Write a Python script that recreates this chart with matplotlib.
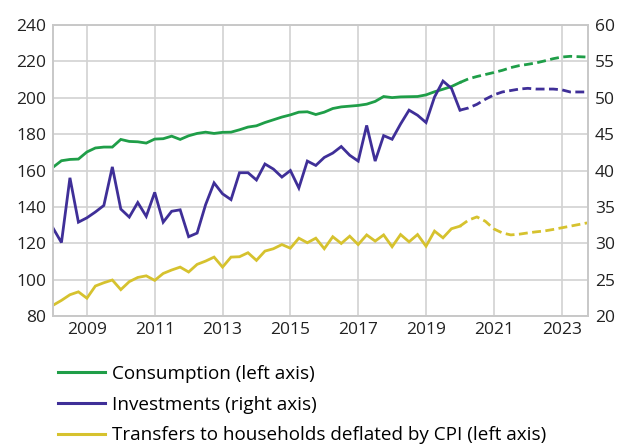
import numpy as np
import matplotlib
matplotlib.use("Agg")
import matplotlib.pyplot as plt
from matplotlib.lines import Line2D

plt.rcParams['font.family'] = ['Open Sans', 'DejaVu Sans']

# quarterly, 2008Q1 - 2023Q4; forecast (dashed) from 2020Q1
start_year = 2008
n_actual = 49  # up to and incl. 2020Q1

consumption = [161.8, 165.4, 166.1, 166.3, 170.2, 172.4, 172.9, 172.9,
               177.1, 176.0, 175.8, 175.1, 177.3, 177.5, 178.9, 177.1,
               179.1, 180.4, 181.1, 180.4, 181.0, 181.1, 182.4, 183.9,
               184.6, 186.4, 187.9, 189.4, 190.6, 192.1, 192.3, 190.8,
               192.1, 194.1, 195.0, 195.4, 195.8, 196.5, 198.0, 200.7,
               200.1, 200.5, 200.6, 200.7, 201.6, 203.3, 204.7, 206.2,
               208.4, 210.4, 211.7, 212.8, 213.9, 215.1, 216.6, 217.7,
               218.4, 219.2, 220.3, 221.5, 222.4, 222.8, 222.6, 222.4]

investments = [32.1, 30.1, 39.0, 32.9, 33.5, 34.3, 35.2, 40.5,
               34.7, 33.6, 35.6, 33.7, 37.0, 32.9, 34.4, 34.6,
               30.9, 31.4, 35.3, 38.3, 36.8, 36.0, 39.7, 39.7,
               38.7, 40.9, 40.2, 39.1, 40.0, 37.6, 41.3, 40.7,
               41.8, 42.4, 43.3, 42.1, 41.3, 46.2, 41.3, 44.8,
               44.3, 46.4, 48.3, 47.6, 46.6, 50.1, 52.3, 51.3,
               48.3, 48.6, 49.1, 49.8, 50.4, 50.8, 51.0, 51.2,
               51.3, 51.2, 51.2, 51.2, 51.1, 50.8, 50.8, 50.8]

transfers = [85.9, 88.6, 91.7, 93.3, 89.8, 96.5, 98.3, 99.8,
             94.5, 98.9, 101.2, 102.1, 99.6, 103.4, 105.3, 106.9,
             104.2, 108.4, 110.2, 112.4, 106.9, 112.4, 112.6, 114.8,
             110.6, 115.7, 117.0, 119.3, 117.3, 122.8, 120.3, 122.8,
             117.0, 123.6, 119.9, 123.9, 119.3, 124.6, 121.2, 124.6,
             118.1, 124.8, 120.8, 124.8, 118.4, 126.7, 123.0, 128.0,
             129.4, 132.7, 134.5, 132.1, 127.9, 125.7, 124.6, 125.0,
             125.7, 126.3, 126.8, 127.6, 128.5, 129.4, 130.3, 131.2]

year_ticks = [2009, 2011, 2013, 2015, 2017, 2019, 2021, 2023]

green = '#1f9e48'
purple = '#3f2f98'
yellow = '#d6c22e'
grid_col = '#d2d2d2'

x = start_year + np.arange(len(consumption)) / 4

fig = plt.figure(figsize=(6.27, 4.48), dpi=100)
ax = fig.add_axes([0.0845, 0.2946, 0.8535, 0.6495])
ax2 = ax.twinx()

lw = 2.0
dash = (0, (3.2, 1.6))
a = n_actual
ax.plot(x[:a], consumption[:a], color=green, lw=lw, solid_joinstyle='miter')
ax.plot(x[a - 1:], consumption[a - 1:], color=green, lw=lw, linestyle=dash)
ax.plot(x[:a], transfers[:a], color=yellow, lw=lw, solid_joinstyle='miter')
ax.plot(x[a - 1:], transfers[a - 1:], color=yellow, lw=lw, linestyle=dash)
ax2.plot(x[:a], investments[:a], color=purple, lw=lw, solid_joinstyle='miter')
ax2.plot(x[a - 1:], investments[a - 1:], color=purple, lw=lw, linestyle=dash)

ax.set_xlim(2008, 2023.78)
ax.set_ylim(80, 240)
ax.set_yticks(range(80, 241, 20))
ax2.set_ylim(20, 60)
ax2.set_yticks(range(20, 61, 5))
ax.set_xticks(year_ticks)
ax.set_xticklabels([str(y) for y in year_ticks])

ax.grid(True, color=grid_col, lw=1.2)
ax.set_axisbelow(True)
for a_ in (ax, ax2):
    for s in a_.spines.values():
        s.set_color('#c8c8c8')
        s.set_linewidth(1.2)
    a_.tick_params(length=0, labelsize=12.5, colors='#222222', pad=5)
ax.tick_params(axis='x', pad=4)

handles = [Line2D([], [], color=green, lw=2.2),
           Line2D([], [], color=purple, lw=2.2),
           Line2D([], [], color=yellow, lw=2.2)]
labels = ['Consumption (left axis)', 'Investments (right axis)',
          'Transfers to households deflated by CPI (left axis)']
fig.legend(handles, labels, loc='upper left', bbox_to_anchor=(0.0925, 0.186),
           frameon=False, fontsize=13.6, handlelength=2.5, handletextpad=0.37,
           labelspacing=0.68, borderaxespad=0, borderpad=0)

fig.savefig('out.png', dpi=100)
